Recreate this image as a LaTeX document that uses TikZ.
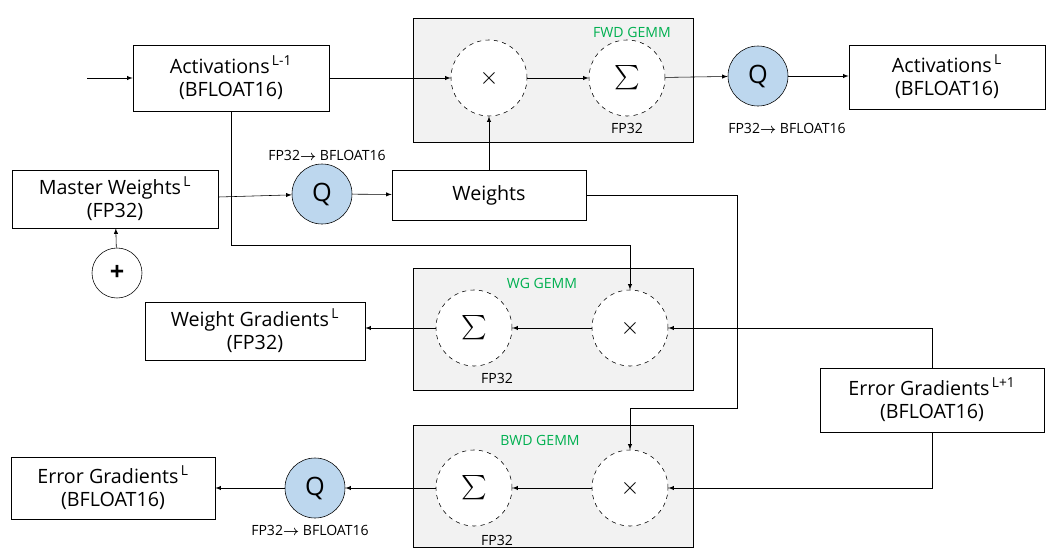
\documentclass[tikz,border=0pt]{standalone}
\usepackage{amsmath}
\usepackage{fontspec}
\setmainfont{Open Sans}
\usetikzlibrary{positioning, arrows, calc}
\definecolor{qblue}{RGB}{189,215,238}
\definecolor{gemmgray}{RGB}{242,242,242}
\definecolor{gemmgreen}{RGB}{0,176,80}
\tikzset{
	blk/.style={draw, rectangle, fill=white, align=center, font=\fontsize{14}{17}\selectfont},
	gemm/.style={draw, rectangle, fill=gemmgray},
	opc/.style={draw, dashed, circle, fill=white, minimum size=1.9cm, inner sep=0pt, font=\fontsize{18}{18}\selectfont},
	qc/.style={draw, circle, fill=qblue, minimum size=1.5cm, inner sep=0pt, font=\fontsize{18}{18}\selectfont},
	lbl/.style={font=\fontsize{10}{12}\selectfont},
	glbl/.style={font=\fontsize{10}{12}\selectfont, text=gemmgreen},
	arr/.style={-latex}
}
\begin{document}
\begin{tikzpicture}[x=0.025cm, y=-0.025cm]
		\useasboundingbox (0,0) rectangle (1055,560);
		%GEMM boxes
		\node (fwd) [gemm, minimum width=7cm, minimum height=3.1cm] at (553,80) {};
		\node (wg) [gemm, minimum width=7cm, minimum height=3.05cm] at (553,329) {};
		\node (bwd) [gemm, minimum width=7cm, minimum height=3.05cm] at (553,486) {};
		\node (fwdl) [glbl] at (632,32) {FWD GEMM};
		\node (wgl) [glbl] at (542,283) {WG GEMM};
		\node (bwdl) [glbl] at (540,440) {BWD GEMM};
		
		%Forward
		\coordinate (in) at (87,78);
		\node (actin) [blk, minimum width=4.9cm, minimum height=1.65cm] at (231,78)
		{Activations\textsuperscript{\,L-1}\\(BFLOAT16)};
		\node (fmul) [opc] at (489,78) {$\times$};
		\node (fsum) [opc] at (627,78) {$\sum$};
		\node (fsuml) [lbl] at (627,128) {FP32};
		\node (fq) [qc] at (758,76) {Q};
		\node (fql) [lbl] at (787,128) {FP32$\boldsymbol{\rightarrow}$ BFLOAT16};
		\node (actout) [blk, minimum width=4.9cm, minimum height=1.6cm] at (947,77)
		{Activations\textsuperscript{\,L}\\(BFLOAT16)};
		
		%Weights
		\node (master) [blk, minimum width=5.15cm, minimum height=1.45cm] at (115,199)
		{Master Weights\textsuperscript{\,L}\\(FP32)};
		\node (wq) [qc] at (322,194) {Q};
		\node (wql) [lbl] at (327,155) {FP32$\boldsymbol{\rightarrow}$ BFLOAT16};
		\node (weights) [blk, minimum width=4.85cm, minimum height=1.25cm] at (489,195) {Weights};
		\node (plus) [draw, circle, fill=white, minimum size=1.25cm, inner sep=0pt, font=\fontsize{18}{18}\selectfont\bfseries] at (117,273) {+};
		
		%Weight gradients
		\node (wsum) [opc] at (474,328) {$\sum$};
		\node (wsuml) [lbl] at (497,378) {FP32};
		\node (wmul) [opc] at (630,328) {$\times$};
		\node (wgrad) [blk, minimum width=5.5cm, minimum height=1.45cm] at (255,331)
		{Weight Gradients\textsuperscript{\,L}\\(FP32)};
		\node (errin) [blk, minimum width=5.6cm, minimum height=1.6cm] at (932,400)
		{Error Gradients\textsuperscript{\,L+1}\\(BFLOAT16)};
		
		%Error gradients
		\node (bsum) [opc] at (474,488) {$\sum$};
		\node (bsuml) [lbl] at (497,540) {FP32};
		\node (bmul) [opc] at (630,488) {$\times$};
		\node (bq) [qc] at (315,488) {Q};
		\node (bql) [lbl] at (310,530) {FP32$\boldsymbol{\rightarrow}$ BFLOAT16};
		\node (errout) [blk, minimum width=5.1cm, minimum height=1.55cm] at (113,488)
		{Error Gradients\textsuperscript{\,L}\\(BFLOAT16)};
		
		%Connectors
		\draw[arr] (in) -- (actin);
		\draw[arr] (actin) -- (fmul);
		\draw[arr] (fmul) -- (fsum);
		\draw[arr] (fsum) -- (fq);
		\draw[arr] (fq) -- (actout.west |- fq);
		\draw[arr] (weights) -- (fmul);
		\draw[arr] (master.east |- 0,197) -- (wq);
		\draw[arr] (wq) -- (weights);
		\draw[arr] (plus) -- (master);
		\draw[arr] (actin.south) |- (630,245) -- (wmul);
		\draw[arr] (weights.east) -| (737,408) -| (bmul);
		\draw[arr] (errin.north) |- (wmul);
		\draw[arr] (errin.south) |- (bmul);
		\draw[arr] (wmul) -- (wsum);
		\draw[arr] (wsum) -- (wgrad.east |- wsum);
		\draw[arr] (bmul) -- (bsum);
		\draw[arr] (bsum) -- (bq);
		\draw[arr] (bq) -- (errout);
\end{tikzpicture}
\end{document}
